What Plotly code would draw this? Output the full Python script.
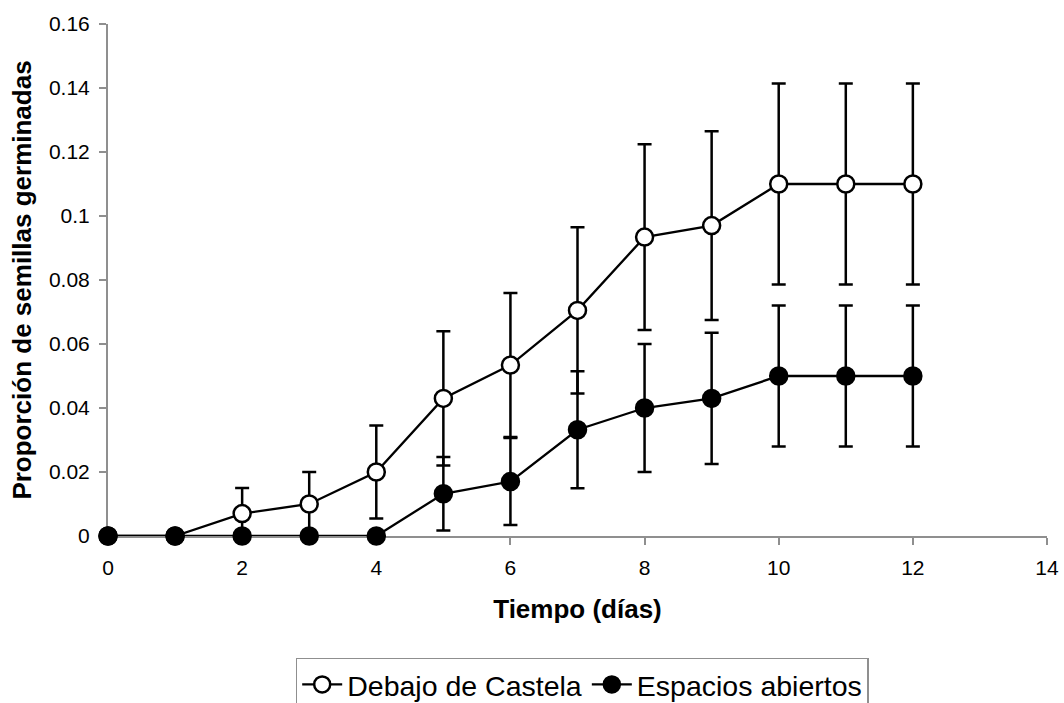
import plotly.graph_objects as go

# Data
dias = [0, 1, 2, 3, 4, 5, 6, 7, 8, 9, 10, 11, 12]
debajo_castela = [0, 0, 0.007, 0.010, 0.020, 0.043, 0.0534, 0.0705, 0.0934, 0.097, 0.110, 0.110, 0.110]
debajo_err = [0, 0, 0.008, 0.010, 0.0145, 0.021, 0.0225, 0.026, 0.029, 0.0295, 0.0314, 0.0314, 0.0314]
espacios_abiertos = [0, 0, 0, 0, 0, 0.0132, 0.017, 0.0332, 0.040, 0.043, 0.050, 0.050, 0.050]
espacios_err = [0, 0, 0, 0, 0, 0.0115, 0.0136, 0.0183, 0.020, 0.0205, 0.022, 0.022, 0.022]

y_tickvals = [0, 0.02, 0.04, 0.06, 0.08, 0.10, 0.12, 0.14, 0.16]
y_ticktext = ["0", "0.02", "0.04", "0.06", "0.08", "0.1", "0.12", "0.14", "0.16"]
x_tickvals = [0, 2, 4, 6, 8, 10, 12, 14]
x_ticktext = ["0", "2", "4", "6", "8", "10", "12", "14"]

FONT = "Liberation Sans, Arial, sans-serif"
AXIS_GRAY = "#8f8f8f"

fig = go.Figure()

fig.add_trace(go.Scatter(
    x=dias, y=debajo_castela, name="Debajo de Castela",
    mode="lines+markers",
    line=dict(color="black", width=2.3),
    marker=dict(symbol="circle", size=17, color="white", line=dict(color="black", width=2.5)),
    error_y=dict(type="data", array=debajo_err, visible=True, color="black", thickness=2.5, width=7),
    cliponaxis=False,
))

fig.add_trace(go.Scatter(
    x=dias, y=espacios_abiertos, name="Espacios abiertos",
    mode="lines+markers",
    line=dict(color="black", width=2.3),
    marker=dict(symbol="circle", size=17, color="black", line=dict(color="black", width=2.5)),
    error_y=dict(type="data", array=espacios_err, visible=True, color="black", thickness=2.5, width=7),
    cliponaxis=False,
))

fig.update_layout(
    width=1064, height=703,
    margin=dict(l=108, r=17, t=24, b=167, autoexpand=False),
    paper_bgcolor="white", plot_bgcolor="white",
    font=dict(family=FONT, color="black"),
    showlegend=True,
    legend=dict(
        orientation="h",
        x=0.505, xanchor="center",
        y=-0.238, yanchor="top",
        font=dict(family=FONT, size=28.5, color="black"),
        bordercolor=AXIS_GRAY, borderwidth=1.5,
        bgcolor="white",
        itemwidth=40,
    ),
    xaxis=dict(
        range=[0, 14], tickvals=x_tickvals, ticktext=x_ticktext,
        showline=True, linecolor=AXIS_GRAY, linewidth=2,
        ticks="outside", ticklen=7, tickwidth=2, tickcolor=AXIS_GRAY,
        tickfont=dict(family=FONT, size=21, color="black"),
        ticklabelstandoff=5,
        showgrid=False, zeroline=False, layer="below traces",
        title=dict(text="<b>Tiempo (días)</b>", font=dict(family=FONT, size=26, color="black"), standoff=22),
    ),
    yaxis=dict(
        range=[0, 0.16], tickvals=y_tickvals, ticktext=y_ticktext,
        showline=True, linecolor=AXIS_GRAY, linewidth=2,
        ticks="outside", ticklen=7, tickwidth=2, tickcolor=AXIS_GRAY,
        tickfont=dict(family=FONT, size=21, color="black"),
        ticklabelstandoff=5,
        showgrid=False, zeroline=False, layer="below traces",
        title=dict(text="<b>Proporción de semillas germinadas</b>", font=dict(family=FONT, size=26, color="black"), standoff=10),
    ),
)

fig.write_html("out.html")
